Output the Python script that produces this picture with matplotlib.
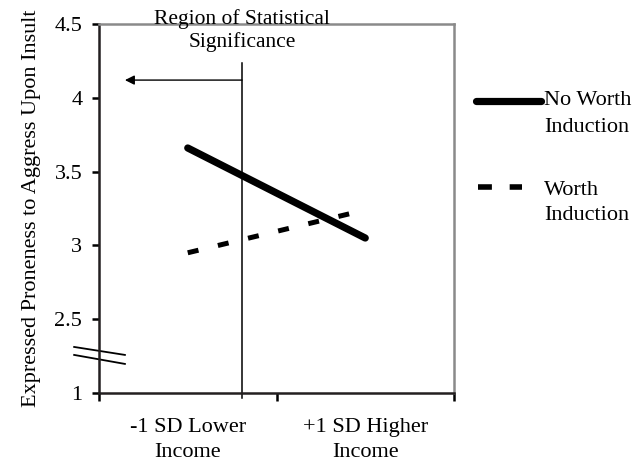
import matplotlib
matplotlib.use("Agg")
import matplotlib.pyplot as plt
from matplotlib.lines import Line2D

plt.rcParams["font.family"] = ["Liberation Serif", "DejaVu Serif"]

# categorias no eixo x (centro de cada faixa)
categories = ["-1 SD Lower\nIncome", "+1 SD Higher\nIncome"]
cat_pos = [0.5, 1.5]
no_worth = [3.66, 3.05]
worth = [2.95, 3.24]
series_labels = ["No Worth\nInduction", "Worth\nInduction"]

# eixo y quebrado: valor 2.0 na escala desenhada e rotulado como "1"
ytick_pos = [2.0, 2.5, 3.0, 3.5, 4.0, 4.5]
ytick_labels = ["1", "2.5", "3", "3.5", "4", "4.5"]

sig_x = 0.806      # limite da regiao de significancia
arrow_y = 4.12
arrow_end = 0.146

FS = 16
W, H = 634, 465

fig = plt.figure(figsize=(6.34, 4.65), dpi=100)
ax = fig.add_axes([99 / W, 1 - 393 / H, 355 / W, 369 / H])

ax.plot(cat_pos, no_worth, color="black", linewidth=5.2, solid_capstyle="round")
ax.plot(cat_pos, worth, color="black", linewidth=3.6, linestyle=(0, (2.2, 4.0)),
        dash_capstyle="butt")

ax.set_xlim(0, 2)
ax.set_ylim(2.0, 4.5)
ax.set_xticks([0, 1, 2])
ax.set_xticklabels(["", "", ""])
ax.set_xticks(cat_pos, minor=True)
ax.set_xticklabels(categories, minor=True, fontsize=FS, linespacing=1.42)
ax.tick_params(axis="x", which="minor", length=0, pad=18)
ax.tick_params(axis="x", which="major", length=6, width=1.8, direction="out")
ax.set_yticks(ytick_pos)
ax.set_yticklabels(ytick_labels, fontsize=FS)
ax.tick_params(axis="y", length=5, width=1.8, direction="out", pad=7)

for side in ["left", "bottom"]:
    ax.spines[side].set_linewidth(1.8)
    ax.spines[side].set_color("#231f20")
for side in ["top", "right"]:
    ax.spines[side].set_linewidth(1.8)
    ax.spines[side].set_color("#8a8a8a")

ax.set_ylabel("Expressed Proneness to Aggress Upon Insult", fontsize=FS, labelpad=10)

# linha vertical da regiao de significancia
ax.plot([sig_x, sig_x], [1.966, 4.236], color="black", linewidth=1.1, clip_on=False)
ax.annotate("", xy=(arrow_end, arrow_y), xytext=(sig_x, arrow_y),
            arrowprops=dict(arrowstyle="-|>", color="black", lw=1.0,
                            mutation_scale=14, shrinkA=0, shrinkB=0))
ax.text(sig_x, 4.455, "Region of Statistical\nSignificance", ha="center", va="center",
        fontsize=15.5, linespacing=1.2)

# marcas de quebra do eixo y
ax.plot([-0.14, 0.146], [2.312, 2.258], color="black", linewidth=1.3, clip_on=False)
ax.plot([-0.14, 0.146], [2.258, 2.197], color="black", linewidth=1.3, clip_on=False)

# legenda desenhada a mao (linha alinhada com a primeira linha do rotulo)
fig.add_artist(Line2D([476 / W, 541 / W], [1 - 101 / H, 1 - 101 / H], color="black",
                      linewidth=5.2, solid_capstyle="round"))
fig.add_artist(Line2D([478 / W, 522 / W], [1 - 187 / H, 1 - 187 / H], color="black",
                      linewidth=4.0, linestyle=(0, (2.5, 3.2)), dash_capstyle="butt"))
fig.text(544 / W, 1 - 91 / H, series_labels[0], ha="left", va="top", fontsize=FS,
         linespacing=1.55)
fig.text(544 / W, 1 - 181 / H, series_labels[1], ha="left", va="top", fontsize=FS,
         linespacing=1.45)

fig.savefig("out.png", dpi=100)
